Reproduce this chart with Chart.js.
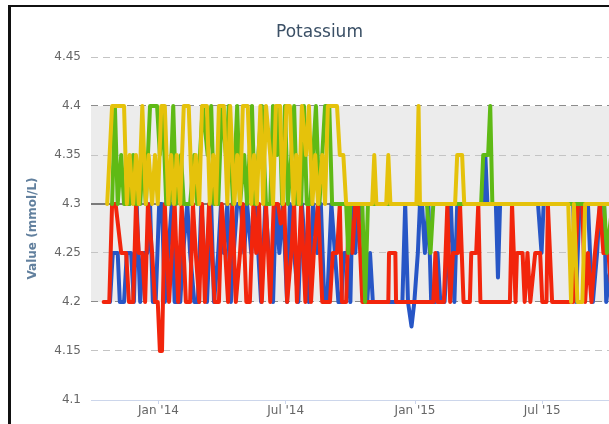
<!DOCTYPE html>
<html>
<head>
<meta charset="utf-8">
<title>Potassium</title>
<script src="https://cdn.jsdelivr.net/npm/chart.js@4.4.0/dist/chart.umd.js"></script>
<style>
  html, body { margin: 0; padding: 0; background: #fff; overflow: hidden; width: 609px; height: 424px; }
  .frame {
    position: absolute; left: 8px; top: 5px; right: 0; bottom: 0;
    border-left: 3px solid #111; border-top: 2px solid #111;
    overflow: hidden;
  }
  canvas { display: block; }
</style>
</head>
<body>
<div class="frame"><canvas id="chart" width="617" height="417"></canvas></div>
<script>
// x values are days since 1 Jan 2014
const xTickDays = [0, 181, 365, 546];
const xTickLabels = ["Jan '14", "Jul '14", "Jan '15", "Jul '15"];
const yTicks = [4.1, 4.15, 4.2, 4.25, 4.3, 4.35, 4.4, 4.45];
const xMin = -96;
const xMax = 668;

// normal range band and reference line
const bandLow = 4.2;
const bandHigh = 4.4;
const refLine = 4.3;

// [day, value] pairs
const yellowPoints = [
  [-73,4.3],[-66,4.4],[-49,4.4],[-45,4.3],[-41,4.35],[-36,4.3],[-32,4.35],[-28,4.3],[-23,4.4],[-18,4.3],
  [-14,4.35],[-9,4.3],[-5,4.35],[-1,4.3],[4,4.4],[9,4.4],[14,4.3],[18,4.35],[22,4.3],[26,4.35],
  [31,4.3],[36,4.4],[43,4.4],[48,4.3],[53,4.35],[58,4.3],[62,4.4],[69,4.4],[73,4.3],[78,4.35],
  [82,4.3],[86,4.4],[93,4.4],[98,4.3],[102,4.4],[108,4.3],[112,4.35],[116,4.3],[120,4.4],[127,4.4],
  [132,4.3],[136,4.35],[140,4.3],[145,4.4],[149,4.3],[153,4.4],[159,4.35],[163,4.3],[167,4.4],[173,4.4],
  [177,4.3],[182,4.4],[187,4.4],[192,4.3],[196,4.35],[200,4.3],[204,4.4],[210,4.35],[214,4.4],[219,4.3],
  [223,4.35],[227,4.3],[233,4.35],[237,4.3],[241,4.4],[254,4.4],[258,4.35],[263,4.35],[267,4.3],[304,4.3],
  [307,4.35],[310,4.3],[324,4.3],[327,4.35],[330,4.3],[367,4.3],[370,4.4],[372,4.3],[422,4.3],[425,4.35],
  [432,4.35],[435,4.3],[583,4.3],[587,4.2],[591,4.3],[596,4.2],[603,4.2],[607,4.3],[685,4.3]
];

const greenPoints = [
  [-66,4.3],[-62,4.4],[-58,4.3],[-53,4.35],[-49,4.3],[-41,4.3],[-36,4.35],[-32,4.3],[-26,4.3],[-22,4.35],
  [-18,4.3],[-12,4.4],[-2,4.4],[2,4.35],[6,4.4],[11,4.3],[16,4.3],[21,4.4],[25,4.3],[32,4.35],
  [36,4.3],[45,4.3],[51,4.35],[55,4.3],[63,4.4],[70,4.35],[75,4.4],[79,4.3],[85,4.3],[90,4.4],
  [96,4.35],[100,4.4],[106,4.3],[112,4.4],[116,4.3],[122,4.35],[126,4.3],[133,4.4],[137,4.3],[142,4.35],
  [147,4.4],[153,4.3],[159,4.3],[163,4.4],[169,4.35],[172,4.4],[176,4.3],[180,4.4],[184,4.3],[189,4.35],
  [193,4.4],[197,4.3],[203,4.3],[207,4.4],[211,4.3],[216,4.3],[220,4.35],[224,4.4],[229,4.3],[233,4.35],
  [237,4.4],[243,4.4],[247,4.3],[267,4.3],[270,4.25],[273,4.3],[290,4.3],[294,4.2],[298,4.3],[382,4.3],
  [387,4.25],[391,4.3],[459,4.3],[462,4.35],[469,4.35],[472,4.4],[475,4.3],[634,4.3],[638,4.25],[646,4.3],
  [685,4.3]
];

const redPoints = [
  [-78,4.2],[-70,4.2],[-66,4.3],[-61,4.3],[-53,4.25],[-46,4.25],[-42,4.2],[-36,4.2],[-32,4.3],[-28,4.25],
  [-23,4.25],[-19,4.2],[-15,4.3],[-9,4.25],[-5,4.2],[-1,4.2],[2,4.15],[5,4.15],[9,4.3],[15,4.2],
  [19,4.25],[23,4.3],[28,4.2],[33,4.3],[39,4.2],[45,4.2],[49,4.3],[53,4.25],[58,4.2],[62,4.3],
  [66,4.2],[72,4.3],[76,4.25],[80,4.2],[86,4.2],[90,4.3],[95,4.25],[99,4.2],[105,4.3],[110,4.2],
  [116,4.25],[120,4.3],[125,4.2],[130,4.2],[135,4.3],[139,4.25],[143,4.3],[147,4.2],[153,4.3],[159,4.2],
  [164,4.3],[170,4.3],[174,4.28],[179,4.3],[183,4.2],[189,4.25],[193,4.3],[197,4.2],[203,4.3],[209,4.2],
  [213,4.3],[217,4.2],[221,4.25],[227,4.3],[233,4.2],[244,4.2],[248,4.25],[254,4.25],[258,4.3],[261,4.2],
  [267,4.2],[271,4.3],[276,4.25],[280,4.3],[284,4.3],[290,4.2],[327,4.2],[328,4.25],[337,4.25],[338,4.2],
  [391,4.2],[394,4.25],[397,4.2],[406,4.2],[411,4.3],[415,4.2],[419,4.25],[426,4.25],[429,4.3],[434,4.2],
  [443,4.2],[445,4.25],[452,4.25],[455,4.3],[458,4.2],[500,4.2],[503,4.3],[508,4.2],[510,4.25],[518,4.25],
  [521,4.2],[525,4.25],[529,4.2],[536,4.25],[543,4.25],[546,4.2],[552,4.2],[554,4.3],[560,4.2],[590,4.2],
  [597,4.3],[603,4.3],[607,4.2],[611,4.25],[616,4.2],[621,4.25],[628,4.3],[633,4.25],[640,4.25],[646,4.2]
];

const bluePoints = [
  [-69,4.2],[-65,4.25],[-58,4.25],[-55,4.2],[-49,4.2],[-45,4.25],[-39,4.25],[-35,4.2],[-31,4.3],[-26,4.2],
  [-22,4.25],[-16,4.25],[-12,4.3],[-8,4.2],[-4,4.2],[1,4.3],[5,4.3],[9,4.2],[14,4.25],[19,4.3],
  [23,4.2],[31,4.2],[35,4.25],[41,4.3],[45,4.25],[51,4.2],[56,4.2],[61,4.3],[65,4.25],[69,4.2],
  [75,4.3],[79,4.2],[85,4.25],[89,4.3],[93,4.25],[98,4.3],[103,4.2],[107,4.25],[112,4.3],[117,4.3],
  [122,4.25],[126,4.3],[132,4.25],[137,4.3],[142,4.25],[146,4.2],[152,4.3],[157,4.25],[163,4.2],[167,4.3],
  [172,4.25],[177,4.3],[183,4.2],[187,4.3],[193,4.25],[199,4.2],[204,4.3],[209,4.25],[214,4.2],[220,4.3],
  [226,4.25],[231,4.3],[236,4.2],[240,4.2],[246,4.3],[251,4.25],[256,4.2],[260,4.2],[264,4.25],[268,4.25],
  [273,4.2],[276,4.3],[280,4.25],[284,4.3],[288,4.3],[293,4.25],[297,4.2],[301,4.25],[305,4.2],[347,4.2],
  [351,4.3],[355,4.2],[360,4.175],[364,4.2],[369,4.25],[372,4.3],[375,4.3],[379,4.25],[384,4.3],[388,4.2],
  [394,4.2],[397,4.25],[401,4.2],[407,4.2],[411,4.25],[416,4.3],[421,4.2],[425,4.3],[462,4.3],[465,4.35],
  [468,4.3],[480,4.3],[483,4.225],[486,4.3],[540,4.3],[545,4.25],[548,4.3],[590,4.3],[594,4.2],[599,4.3],
  [611,4.3],[614,4.25],[618,4.2],[624,4.25],[628,4.3],[634,4.3],[637,4.2],[646,4.25]
];

const near = (a, b) => Math.abs(a - b) < 1e-6;

function gridColor(v) {
  if (near(v, refLine)) return '#7a7a7a';
  if (near(v, bandLow) || near(v, bandHigh)) return '#8c8c8c';
  if (near(v, yTicks[0])) return '#ccd6eb';
  return '#c4c4c4';
}

const bandPlugin = {
  id: 'normalBand',
  beforeDraw(chart) {
    const { ctx, chartArea: a, scales: { y } } = chart;
    const top = y.getPixelForValue(bandHigh);
    const bottom = y.getPixelForValue(bandLow);
    ctx.save();
    ctx.fillStyle = '#ececec';
    ctx.fillRect(a.left, top, a.right - a.left, bottom - top);
    ctx.restore();
  }
};

function series(label, points, color) {
  return {
    label,
    data: points.map(p => ({ x: p[0], y: p[1] })),
    borderColor: color,
    backgroundColor: color,
    borderWidth: 4,
    pointRadius: 0,
    tension: 0,
    fill: false,
    borderJoinStyle: 'round',
    borderCapStyle: 'round'
  };
}

Chart.defaults.font.family = '"DejaVu Sans", "Lucida Grande", sans-serif';

new Chart(document.getElementById('chart'), {
  type: 'line',
  data: {
    // first listed is drawn on top
    datasets: [
      series('Series 4', yellowPoints, '#e5c20b'),
      series('Series 3', greenPoints, '#5fba15'),
      series('Series 2', redPoints, '#f2250c'),
      series('Series 1', bluePoints, '#2756c6')
    ]
  },
  options: {
    responsive: false,
    animation: false,
    layout: { padding: 0 },
    plugins: {
      legend: { display: false },
      tooltip: { enabled: false },
      title: {
        display: true,
        text: 'Potassium',
        color: '#3b5066',
        font: { size: 17, weight: 'normal' },
        padding: { top: 15, bottom: 14.6 }
      }
    },
    scales: {
      x: {
        type: 'linear',
        min: xMin,
        max: xMax,
        afterFit: scale => { scale.height = 24; },
        afterBuildTicks: scale => { scale.ticks = xTickDays.map(v => ({ value: v })); },
        ticks: {
          autoSkip: false,
          maxRotation: 0,
          padding: 0,
          color: '#666',
          font: { size: 12 },
          callback: (v, i) => xTickLabels[i]
        },
        grid: {
          drawOnChartArea: false,
          drawTicks: true,
          tickLength: 4,
          color: '#ccd6eb'
        },
        border: { display: true, color: '#ccd6eb', width: 1 }
      },
      y: {
        min: yTicks[0],
        max: yTicks[yTicks.length - 1],
        afterFit: scale => { scale.width = 80; },
        afterBuildTicks: scale => { scale.ticks = yTicks.map(v => ({ value: v })); },
        ticks: {
          padding: 10,
          color: '#666',
          font: { size: 12 },
          callback: v => String(+v.toFixed(2))
        },
        grid: {
          drawTicks: false,
          color: ctx => gridColor(ctx.tick.value),
          lineWidth: ctx => near(ctx.tick.value, refLine) ? 2 : 1
        },
        border: {
          display: false,
          dash: ctx => (near(ctx.tick.value, refLine) || near(ctx.tick.value, yTicks[0])) ? [] : [7, 5]
        },
        title: {
          display: true,
          text: 'Value (mmol/L)',
          color: '#62809e',
          font: { size: 12, weight: 'bold' },
          padding: { top: 15, bottom: 0 }
        }
      }
    }
  },
  plugins: [bandPlugin]
});
</script>
</body>
</html>
